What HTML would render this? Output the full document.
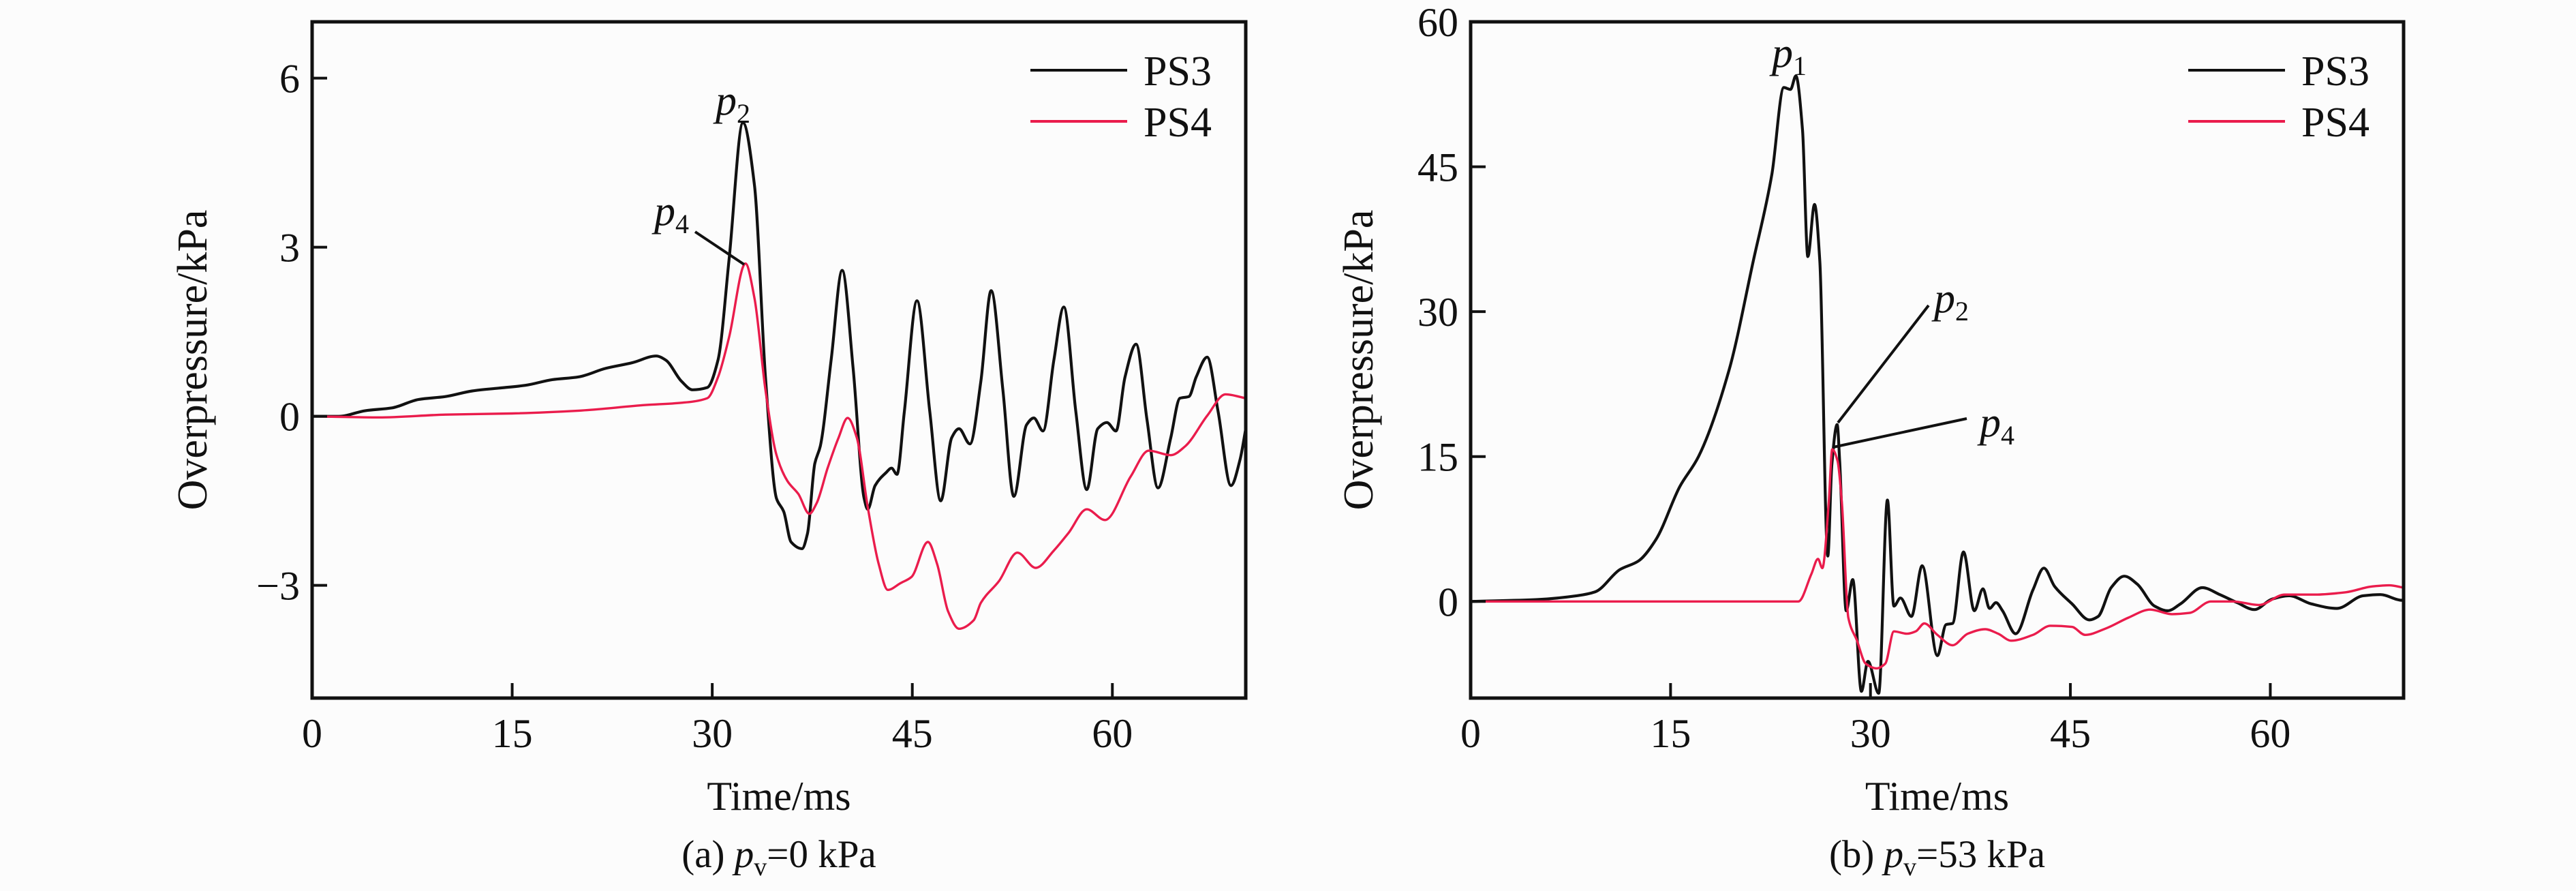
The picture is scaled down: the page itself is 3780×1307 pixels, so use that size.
<!DOCTYPE html>
<html><head><meta charset="utf-8">
<style>
html,body{margin:0;padding:0;background:#fcfcfc;}
svg{display:block;font-family:"Liberation Serif",serif;}
</style></head>
<body>
<svg id="chart" width="3780" height="1307" viewBox="0 0 3780 1307" xmlns="http://www.w3.org/2000/svg">
<rect x="0" y="0" width="3780" height="1307" fill="#fcfcfc"/>
<g id="panelA"></g>
<g id="panelB"></g>
</svg>
<script>
// ---- Panel (a) data ----
const aTicksX = [0, 15, 30, 45, 60];
const aTicksY = [-3, 0, 3, 6];
const aPs3T = [0,2,4,6,8,10,12,14,16,18,20,22,24,25.8,26.5,27.7,28.52,29.62,30.44,31.26,32.3,33.17,33.99,34.82,35.36,35.91,36.73,37.14,37.69,38.1,38.92,39.74,40.56,41.39,41.66,42.21,43.03,43.44,43.85,44.4,45.35,46.31,47.13,47.95,48.5,49.32,50.14,50.91,51.79,52.61,53.57,54.11,54.8,55.62,56.36,57.26,58.08,58.9,59.59,60.27,60.95,61.78,62.6,63.42,64.38,65.06,65.74,66.29,67.11,67.93,68.89,69.58,70];
const aPs3V = [0,0,0.1,0.15,0.3,0.35,0.45,0.5,0.55,0.65,0.7,0.85,0.95,1.07,1.0,0.62,0.47,0.51,1.01,2.78,5.21,4.09,0.7,-1.46,-1.69,-2.23,-2.35,-2.08,-0.84,-0.53,1.01,2.59,0.86,-1.46,-1.65,-1.23,-1.0,-0.92,-1.03,0.08,2.05,0.08,-1.5,-0.38,-0.22,-0.49,0.62,2.23,0.47,-1.42,-0.15,-0.03,-0.26,1.01,1.94,0.08,-1.3,-0.22,-0.11,-0.26,0.7,1.28,-0.07,-1.27,-0.38,0.32,0.35,0.7,1.05,0.08,-1.23,-0.76,-0.22];
const aPs4T = [0,5,10,15,20,25,27.7,29.62,30.44,31.26,32.49,33.17,33.99,34.82,35.64,36.46,37.28,37.83,38.65,39.47,40.15,40.84,41.66,42.48,43.16,44.12,44.94,46.17,46.86,47.68,48.5,49.6,50.14,51.51,52.88,54.25,55.62,56.71,58.08,59.45,61.37,62.73,64.38,65.47,67.11,68.48,70];
const aPs4V = [0,-0.02,0.03,0.05,0.1,0.2,0.24,0.32,0.7,1.4,2.71,2.09,0.47,-0.69,-1.15,-1.38,-1.73,-1.54,-0.92,-0.38,-0.03,-0.38,-1.61,-2.62,-3.08,-2.96,-2.85,-2.23,-2.62,-3.46,-3.77,-3.62,-3.31,-2.92,-2.42,-2.69,-2.38,-2.07,-1.65,-1.84,-1.07,-0.61,-0.69,-0.53,0.01,0.39,0.32];

// ---- Panel (b) data ----
const bTicksX = [0, 15, 30, 45, 60];
const bTicksY = [0, 15, 30, 45, 60];
const bPs3T = [0,5,8,9.35,11.2,12.6,13.9,15.7,17.1,19.4,21.2,22.6,23.5,24.0,24.4,24.9,25.3,25.8,26.2,26.8,27.1,27.5,27.69,28.18,28.67,29.32,29.81,30.62,31.27,31.76,32.25,33.07,33.88,35.02,35.67,36.16,36.98,37.79,38.44,38.93,39.42,39.91,40.89,42.19,43.01,43.82,45.12,46.43,47.08,48.06,49.04,50.02,51.32,52.3,53.27,54.9,56.21,57.51,58.81,60.12,61.42,63.05,65.0,66.96,68.26,69.89,70];
const bPs3V = [0,0.2,0.6,1.0,3.3,4.2,6.4,11.9,15.0,24.0,35.2,44.2,53.2,53.0,54.4,48.8,35.7,41.1,35.2,4.7,14.1,18.3,14.55,-0.96,2.27,-9.3,-6.2,-9.5,10.5,-0.48,0.36,-1.55,3.7,-5.61,-2.39,-2.27,5.13,-0.96,1.31,-0.72,-0.12,-0.96,-3.34,1.19,3.46,1.55,-0.24,-1.91,-1.55,1.43,2.62,1.79,-0.48,-0.96,-0.24,1.43,0.71,-0.12,-0.84,0.24,0.59,-0.24,-0.72,0.59,0.71,0.12,0.3];
const bPs4T = [0,10,20,24.59,25.57,26.06,26.39,26.87,27.13,27.53,27.85,28.34,28.99,29.64,30.46,31.11,31.76,32.74,33.39,34.04,35.02,36.16,37.3,38.61,39.58,40.56,42.19,43.5,45.12,46.1,47.73,49.36,50.99,52.62,53.93,55.55,57.18,59.14,61.09,63.38,65.66,67.62,68.92,70];
const bPs4V = [0,0,0,0,2.86,4.41,3.46,10.26,15.75,14.55,10.26,-1.67,-4.06,-6.44,-6.92,-6.44,-3.1,-3.34,-3.1,-2.27,-3.46,-4.53,-3.34,-2.87,-3.34,-4.06,-3.46,-2.51,-2.63,-3.46,-2.75,-1.67,-0.84,-1.31,-1.19,0,0,-0.36,0.71,0.71,0.95,1.55,1.67,1.43];

const NS = "http://www.w3.org/2000/svg";
function mk(parent, tag, attrs, text) {
  const el = document.createElementNS(NS, tag);
  for (const k in attrs) el.setAttribute(k, attrs[k]);
  if (text !== undefined) el.textContent = text;
  parent.appendChild(el);
  return el;
}

// monotone cubic (Fritsch–Carlson) path through points
function smoothPath(P) {
  const n = P.length;
  if (n < 2) return "";
  const d = [], m = new Array(n);
  for (let i = 0; i < n - 1; i++) d.push((P[i+1][1] - P[i][1]) / (P[i+1][0] - P[i][0]));
  m[0] = d[0]; m[n-1] = d[n-2];
  for (let i = 1; i < n - 1; i++) {
    if (d[i-1] * d[i] <= 0) m[i] = 0;
    else { const w1 = 2*(P[i+1][0]-P[i][0]) + (P[i][0]-P[i-1][0]); const w2 = (P[i+1][0]-P[i][0]) + 2*(P[i][0]-P[i-1][0]); m[i] = (w1 + w2) / (w1 / d[i-1] + w2 / d[i]); }
  }
  let s = "M" + P[0][0].toFixed(1) + "," + P[0][1].toFixed(1);
  for (let i = 0; i < n - 1; i++) {
    const h = (P[i+1][0] - P[i][0]) / 3;
    s += " C" + (P[i][0]+h).toFixed(1) + "," + (P[i][1]+m[i]*h).toFixed(1) + " " +
         (P[i+1][0]-h).toFixed(1) + "," + (P[i+1][1]-m[i+1]*h).toFixed(1) + " " +
         P[i+1][0].toFixed(1) + "," + P[i+1][1].toFixed(1);
  }
  return s;
}

function drawPanel(g, cfg) {
  const L = cfg.left, R = cfg.right, T = 32, B = 1024;
  const sx = t => L + (t - 0) / 70 * (R - L);
  const sy = v => B - (v - cfg.ymin) / (cfg.ymax - cfg.ymin) * (B - T);

  const clip = mk(g, "clipPath", {id: cfg.id + "clip"});
  mk(clip, "rect", {x: L, y: T, width: R - L, height: B - T});

  const series = [
    {t: cfg.ps3T, v: cfg.ps3V, color: "#111", w: 4.2, name: "ps3-line"},
    {t: cfg.ps4T, v: cfg.ps4V, color: "#ea1c4c", w: 3.4, name: "ps4-line"}
  ];
  [0, 1].forEach(i => {
    const s = series[i];
    const pts = s.t.map((t, j) => [sx(t), sy(s.v[j])]);
    const pl = mk(g, "path", {d: smoothPath(pts), fill: "none", stroke: s.color, "stroke-width": s.w, "stroke-linejoin": "round", "clip-path": "url(#" + cfg.id + "clip)"});
    
    
  });

  const fr = mk(g, "rect", {x: L, y: T, width: R - L, height: B - T, fill: "none", stroke: "#111", "stroke-width": 5});
  
  

  cfg.ticksX.forEach(t => {
    const tk = mk(g, "line", {x1: sx(t), x2: sx(t), y1: B, y2: B - 22, stroke: "#111", "stroke-width": 4});
    
    
    const lb = mk(g, "text", {x: sx(t), y: 1096, "font-size": 60, "text-anchor": "middle", fill: "#111"}, String(t));
    
    
  });
  cfg.ticksY.forEach(v => {
    const tk = mk(g, "line", {x1: L, x2: L + 22, y1: sy(v), y2: sy(v), stroke: "#111", "stroke-width": 4});
    
    
    const lb = mk(g, "text", {x: L - 18, y: sy(v) + 21, "font-size": 60, "text-anchor": "end", fill: "#111"}, v < 0 ? "\u2212" + Math.abs(v) : String(v));
    
    
  });

  const xt = mk(g, "text", {x: (L + R) / 2, y: 1188, "font-size": 60, "text-anchor": "middle", fill: "#111"}, "Time/ms");
  
  
  const yt = mk(g, "text", {x: 0, y: 0, "font-size": 62, "text-anchor": "middle", fill: "#111", transform: "translate(" + (cfg.ytitleX) + ",528) rotate(-90)"}, "Overpressure/kPa");
  
  

  const cap = mk(g, "text", {x: (L + R) / 2, y: 1272, "font-size": 57, "text-anchor": "middle", fill: "#111"});
  
  
  mk(cap, "tspan", {}, cfg.capPre + " ");
  mk(cap, "tspan", {"font-style": "italic"}, "p");
  mk(cap, "tspan", {"font-size": 38, dy: 12}, "v");
  mk(cap, "tspan", {dy: -12}, cfg.capPost);

  [["PS3", "#111", 103], ["PS4", "#ea1c4c", 178]].forEach(([name, c, y]) => {
    const lg = mk(g, "g", {});
    
    
    mk(lg, "line", {x1: R - 316, x2: R - 174, y1: y, y2: y, stroke: c, "stroke-width": 4});
    mk(lg, "text", {x: R - 150, y: y + 22, "font-size": 62, fill: "#111"}, name);
  });

  cfg.annos.forEach(a => {
    const ag = mk(g, "g", {});
    
    
    if (a.line) mk(ag, "line", {x1: a.line[0], y1: a.line[1], x2: a.line[2], y2: a.line[3], stroke: "#111", "stroke-width": 4});
    const tx = mk(ag, "text", {x: a.x, y: a.y, "font-size": 62, fill: "#111"});
    mk(tx, "tspan", {"font-style": "italic"}, "p");
    mk(tx, "tspan", {"font-size": 40, dy: 12}, a.label.slice(1));
  });
}

drawPanel(document.getElementById("panelA"), {
  id: "a", left: 458, right: 1828, ymin: -5, ymax: 7,
  ticksX: aTicksX, ticksY: aTicksY,
  ps3T: aPs3T, ps3V: aPs3V, ps4T: aPs4T, ps4V: aPs4V,
  ytitleX: 303, capPre: "(a)", capPost: "=0 kPa",
  annos: [
    {label: "p2", x: 1050, y: 168},
    {label: "p4", x: 960, y: 330, line: [1020, 340, 1092, 388]}
  ]
});
drawPanel(document.getElementById("panelB"), {
  id: "b", left: 2158, right: 3527, ymin: -10, ymax: 60,
  ticksX: bTicksX, ticksY: bTicksY,
  ps3T: bPs3T, ps3V: bPs3V, ps4T: bPs4T, ps4V: bPs4V,
  ytitleX: 2014, capPre: "(b)", capPost: "=53 kPa",
  annos: [
    {label: "p1", x: 2600, y: 98},
    {label: "p2", x: 2838, y: 458, line: [2830, 448, 2697, 620]},
    {label: "p4", x: 2905, y: 640, line: [2886, 614, 2690, 656]}
  ]
});
</script>
</body></html>
